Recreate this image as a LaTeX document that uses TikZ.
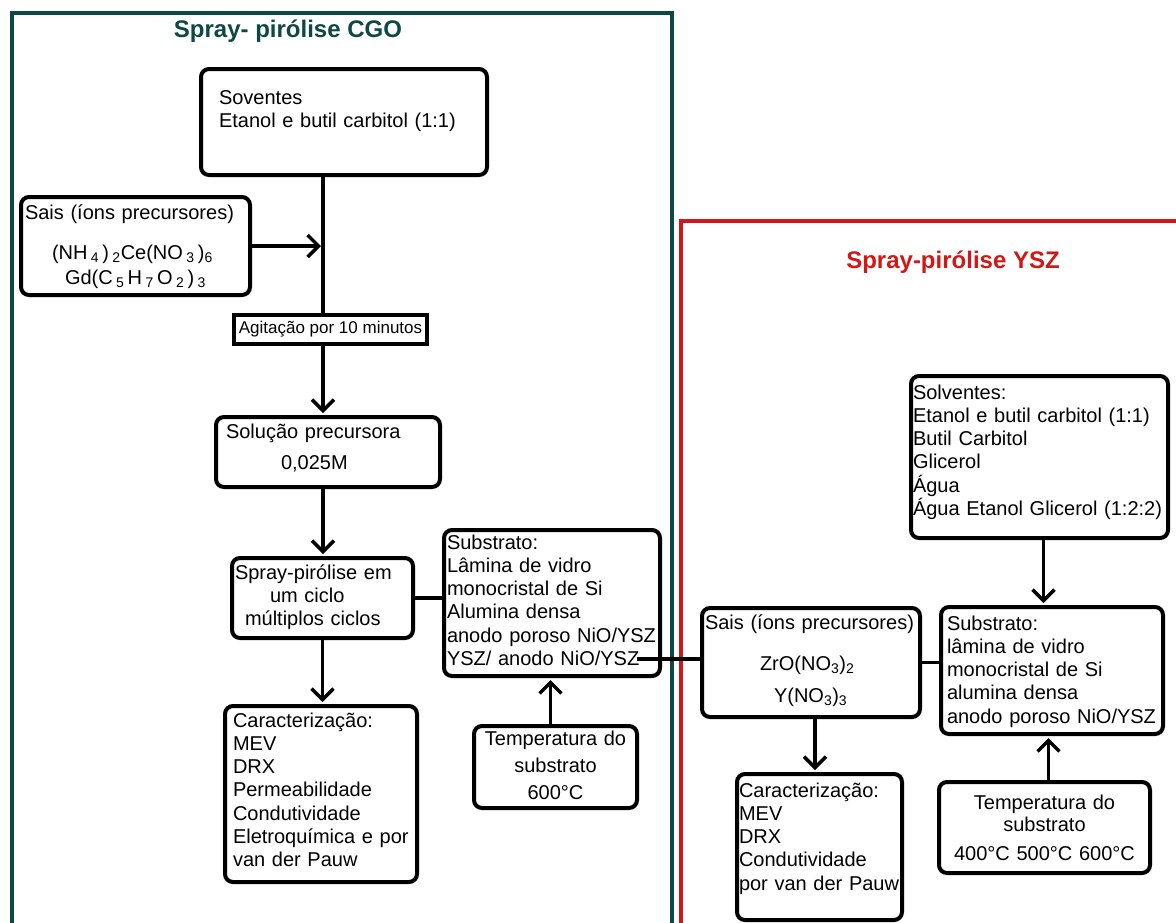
\documentclass[tikz,border=0pt]{standalone}
\usepackage{fontspec}
\setmainfont{Liberation Sans}
\usepackage{tikz}
\usetikzlibrary{arrows.meta}
\definecolor{cgoteal}{RGB}{14,72,68}
\definecolor{yszred}{RGB}{208,24,24}

\begin{document}
\begin{tikzpicture}[x=1pt, y=-1pt,
		box/.style={draw, line width=4pt, rounded corners=8pt, anchor=north west, align=left, inner ysep=4pt, font=\fontsize{20}{23.3}\selectfont},
		conn/.style={line width=3.5pt},
		arr/.style={line width=3.5pt, shorten >=2pt, -{Straight Barb[length=11pt, width=22pt]}},
		frame/.style={line width=4.5pt},
		ttl/.style={anchor=base, font=\fontsize{24}{28}\selectfont\bfseries}]
			\useasboundingbox (0,0) rectangle (1176,922);
			% Frames
			\draw[frame, cgoteal] (12,940) -- (12,13) -- (672,13) -- (672,940);
			\draw[frame, yszred] (681,940) -- (681,221) -- (1195,221);
			\node[ttl, cgoteal] (tCGO) at (288,37) {Spray- pirólise CGO};
			\node[ttl, yszred] (tYSZ) at (953,268) {Spray-pirólise YSZ};
			% Nodes CGO
			\node[box, inner xsep=18pt, text width=250pt, text height=31pt, text depth=67pt] (sovCGO) at (199,67) {Soventes\\Etanol e butil carbitol (1:1)};
			\node[box, inner xsep=4pt, text width=221pt, text height=18pt, text depth=72pt] (saisCGO) at (19,195) {Sais (íons precursores)\\[17pt]\hspace*{27pt}(NH\,\textsubscript{4}\,)\,\textsubscript{2}Ce(NO\,\textsubscript{3}\,)\textsubscript{6}\\[2pt]\hspace*{40pt}Gd(C\,\textsubscript{5}\,H\,\textsubscript{7}\,O\,\textsubscript{2}\,)\,\textsubscript{3}};
			\node[draw, line width=4pt, anchor=north west, minimum width=193pt, minimum height=29pt, inner sep=0pt, font=\fontsize{17}{20}\selectfont] (agit) at (232,313) {Agitação por 10 minutos};
			\node[box, inner xsep=10pt, text width=204pt, text height=17pt, text depth=45pt] (solCGO) at (214,415) {Solução precursora\\[8pt]\hspace*{55pt}0,025M};
			\node[box, inner xsep=3pt, text width=175pt, text height=17pt, text depth=55pt] (sprCGO) at (230,556) {Spray-pirólise em\\\hspace*{35pt}um ciclo\\\hspace*{10pt}múltiplos ciclos};
			\node[box, inner xsep=3pt, text width=210pt, text height=15pt, text depth=123pt] (subCGO) at (442,528) {Substrato:\\Lâmina de vidro\\monocristal de Si\\Alumina densa\\anodo poroso NiO/YSZ\\YSZ/ anodo NiO/YSZ};
			\node[box, align=center, inner xsep=4pt, text width=155pt, text height=15pt, text depth=59pt] (tmpCGO) at (472,724) {Temperatura do\\[3.7pt]substrato\\[3.7pt]600°C};
			\node[box, inner xsep=8pt, text width=176pt, text height=17pt, text depth=151pt] (carCGO) at (223,704) {Caracterização:\\MEV\\DRX\\Permeabilidade\\Condutividade\\Eletroquímica e por\\van der Pauw};
			% Nodes YSZ
			\node[box, inner xsep=2pt, text width=253pt, text height=19pt, text depth=135pt] (solYSZ) at (909,374) {Solventes:\\Etanol e butil carbitol (1:1)\\Butil Carbitol\\Glicerol\\Água\\\mbox{Água Etanol Glicerol (1:2:2)}};
			\node[box, inner xsep=3pt, text width=212pt, text height=17pt, text depth=84pt] (saisYSZ) at (700,606) {Sais (íons precursores)\\[18pt]\hspace*{55pt}ZrO(NO\textsubscript{3})\textsubscript{2}\\[9pt]\hspace*{69pt}Y(NO\textsubscript{3})\textsubscript{3}};
			\node[box, inner xsep=6pt, text width=210pt, text height=19pt, text depth=100pt] (subYSZ) at (939,605) {Substrato:\\lâmina de vidro\\monocristal de Si\\alumina densa\\anodo poroso NiO/YSZ};
			\node[box, inner xsep=2pt, text width=161pt, text height=19pt, text depth=119pt] (carYSZ) at (735,772) {Caracterização:\\MEV\\DRX\\Condutividade\\\mbox{por van der Pauw}};
			\node[box, align=center, inner xsep=4pt, text width=203pt, text height=23pt, text depth=60pt] (tmpYSZ) at (937,780) {Temperatura do\\[-1.3pt]substrato\\[5.7pt]400°C 500°C 600°C};
			% Connectors
			\coordinate (spine) at (323,247);
			\coordinate (link) at (637,659);
			\draw[conn] (spine |- sovCGO.south) -- (spine |- agit.north);
			\draw[arr] (saisCGO.east) -- (saisCGO.east -| spine);
			\draw[arr] (spine |- agit.south) -- (spine |- solCGO.north);
			\draw[arr] (spine |- solCGO.south) -- (spine |- sprCGO.north);
			\draw[arr] (sprCGO.south) -- (sprCGO.south |- carCGO.north);
			\draw[conn] (sprCGO.east) -- (sprCGO.east -| subCGO.west);
			\draw[arr] ([xshift=-5pt]tmpCGO.north) -- ([xshift=-5pt]tmpCGO.north |- subCGO.south);
			\draw[conn] (link) -- (link -| saisYSZ.west);
			\draw[arr] ([xshift=4pt]solYSZ.south) -- ([xshift=4pt]solYSZ.south |- subYSZ.north);
			\draw[conn] (saisYSZ.east) -- (saisYSZ.east -| subYSZ.west);
			\draw[arr] ([xshift=4pt]saisYSZ.south) -- ([xshift=4pt]saisYSZ.south |- carYSZ.north);
			\draw[arr] ([xshift=4pt]tmpYSZ.north) -- ([xshift=4pt]tmpYSZ.north |- subYSZ.south);
\end{tikzpicture}
\end{document}
